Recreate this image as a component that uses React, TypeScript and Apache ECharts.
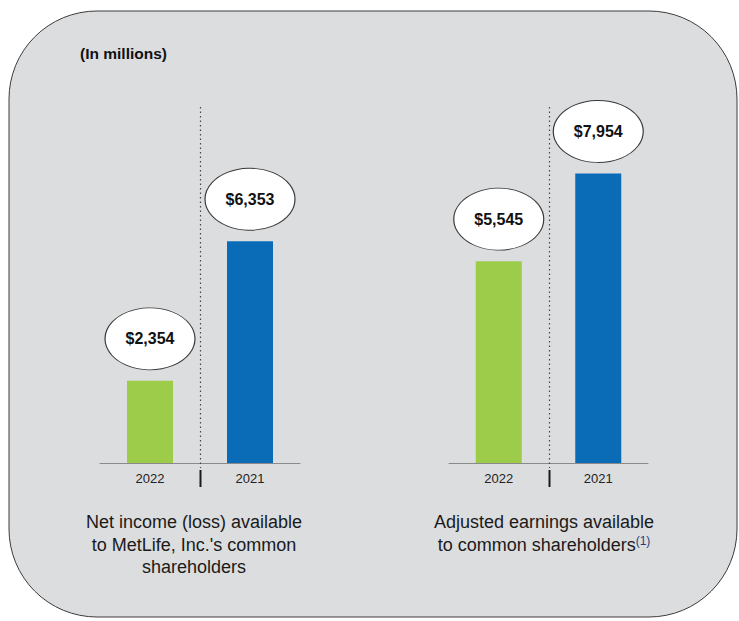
import React, { useEffect, useRef } from "react";
import * as echarts from "echarts";

const categories = ["2022", "2021"];
const netIncome = [2354, 6353];
const adjustedEarnings = [5545, 7954];
const unitNote = "(In millions)";
const captionLeft = "Net income (loss) available\nto MetLife, Inc.'s common\nshareholders";
const captionRight = "Adjusted earnings available\nto common shareholders{sup|(1)}";
const barColors = ["#9dcb4a", "#0a6cb7"];

const SANS = "'Liberation Sans', Arial, sans-serif";

const GRID_TOP = 107;
const GRID_H = 356;

function fmt(v: number) {
  return "$" + v.toLocaleString("en-US");
}

export default function App() {
  const ref = useRef<HTMLDivElement>(null);
  useEffect(() => {
    if (!ref.current) return;
    const chart = echarts.init(ref.current, null, { renderer: "svg" });
    const datasets = [netIncome, adjustedEarnings];
    const series: any[] = [];
    datasets.forEach((vals, gi) => {
      series.push({
        type: "bar",
        xAxisIndex: gi,
        yAxisIndex: gi,
        barWidth: 46,
        data: vals.map((v, i) => ({ value: v, itemStyle: { color: barColors[i] } })),
        z: 2,
      });
      series.push({
        type: "scatter",
        xAxisIndex: gi,
        yAxisIndex: gi,
        symbol: "circle",
        symbolSize: [90, 62],
        symbolOffset: [0, -42],
        itemStyle: { color: "#ffffff", borderColor: "#3a3a3a", borderWidth: 1, opacity: 1 },
        label: {
          show: true,
          position: "inside",
          formatter: (p: any) => fmt(p.value),
          fontFamily: SANS,
          fontWeight: "bold",
          fontSize: 16,
          color: "#111111",
        },
        emphasis: { disabled: true },
        data: vals,
        z: 3,
      });
    });

    const option: any = {
      animation: false,
      backgroundColor: "#ffffff",
      grid: [
        { left: 100, top: GRID_TOP, width: 200, height: GRID_H },
        { left: 449, top: GRID_TOP, width: 199, height: GRID_H },
      ],
      xAxis: [0, 1].map((gi) => ({
        type: "category",
        gridIndex: gi,
        data: categories,
        axisLine: { lineStyle: { color: "#8a8a8a", width: 1 } },
        axisTick: { show: false },
        axisLabel: { color: "#222222", fontSize: 13, fontFamily: SANS, margin: 9 },
        splitLine: { show: false },
      })),
      yAxis: [
        { type: "value", gridIndex: 0, min: 0, max: 10200, show: false },
        { type: "value", gridIndex: 1, min: 0, max: 9780, show: false },
      ],
      series,
    };
    chart.setOption(option);

    const graphics: any[] = [
      {
        type: "rect",
        id: "bg",
        z: -10,
        shape: { x: 9, y: 11, width: 728, height: 606, r: 88 },
        style: { fill: "#dcdddf", stroke: "#3c3c3c", lineWidth: 1 },
      },
      {
        type: "text",
        id: "unit",
        x: 80,
        y: 53,
        style: {
          text: unitNote,
          fill: "#111111",
          font: `bold 15.5px ${SANS}`,
          verticalAlign: "middle",
        },
      },
      {
        type: "text",
        id: "capL",
        x: 194,
        y: 511,
        style: {
          text: captionLeft,
          fill: "#1a1a1a",
          fontSize: 18,
          fontFamily: SANS,
          lineHeight: 22.5,
          align: "center",
          verticalAlign: "top",
        },
      },
      {
        type: "text",
        id: "capR",
        x: 544,
        y: 511,
        style: {
          text: captionRight,
          fill: "#1a1a1a",
          fontSize: 18,
          fontFamily: SANS,
          lineHeight: 22.5,
          align: "center",
          verticalAlign: "top",
          rich: {
            sup: { fontSize: 12, fontFamily: SANS, fill: "#1f3f7a", padding: [0, 0, 8, 0] },
          },
        },
      },
    ];

    [0, 1].forEach((gi) => {
      const a = chart.convertToPixel({ xAxisIndex: gi }, categories[0]) as number;
      const b = chart.convertToPixel({ xAxisIndex: gi }, categories[1]) as number;
      const mid = Math.round((a + b) / 2) + 0.5;
      const base = chart.convertToPixel({ yAxisIndex: gi }, 0) as number;
      graphics.push({
        type: "line",
        id: "dot" + gi,
        z: 1,
        shape: { x1: mid, y1: GRID_TOP, x2: mid, y2: base + 5 },
        style: { stroke: "#444444", lineWidth: 1.2, lineDash: [1.5, 3] },
      });
      graphics.push({
        type: "line",
        id: "tick" + gi,
        z: 1,
        shape: { x1: mid, y1: base + 7, x2: mid, y2: base + 24 },
        style: { stroke: "#1a1a1a", lineWidth: 2 },
      });
    });

    chart.setOption({ graphic: graphics });
    return () => chart.dispose();
  }, []);
  return (
    <div
      ref={ref}
      style={{ position: "fixed", left: 0, top: 0, width: 739, height: 621 }}
    />
  );
}
